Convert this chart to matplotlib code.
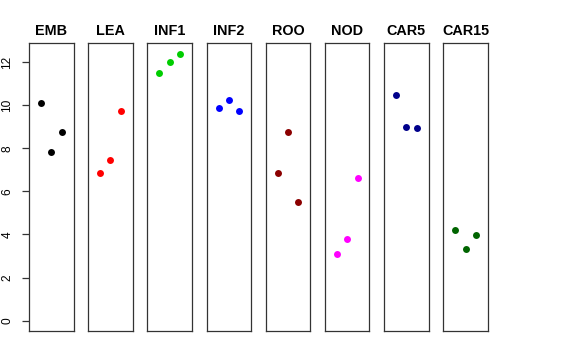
import matplotlib
matplotlib.use('Agg')
import matplotlib.pyplot as plt

# Tissues and their replicate values
tissues = ['EMB', 'LEA', 'INF1', 'INF2', 'ROO', 'NOD', 'CAR5', 'CAR15']
replicates = [1, 2, 3]

emb = [10.10, 7.82, 8.77]
lea = [6.85, 7.45, 9.71]
inf1 = [11.47, 11.99, 12.38]
inf2 = [9.87, 10.24, 9.74]
roo = [6.85, 8.75, 5.51]
nod = [3.11, 3.80, 6.63]
car5 = [10.47, 8.98, 8.92]
car15 = [4.19, 3.31, 3.99]

values = [emb, lea, inf1, inf2, roo, nod, car5, car15]
colors = ['black', '#FF0000', '#00CD00', '#0000FF', '#8B0000', '#FF00FF', '#00008B', '#006400']

y_ticks = [0, 2, 4, 6, 8, 10, 12]

plt.rcParams['font.family'] = ['Liberation Sans', 'DejaVu Sans']

fig = plt.figure(figsize=(5.76, 3.6), dpi=100)
W, H = 576.0, 360.0

# Panel geometry (pixels)
left0 = 29.0
step = 59.19
width = 44.5
bottom = 29.0
height = 287.7

for i, name in enumerate(tissues):
    ax = fig.add_axes([(left0 + i * step) / W, bottom / H, width / W, height / H])
    ax.plot(replicates, values[i], 'o', color=colors[i], markersize=5, markeredgewidth=0)

    ax.set_xlim(-0.16, 4.16)
    ax.set_ylim(-0.48, 12.87)
    ax.set_xticks([])
    for sp in ax.spines.values():
        sp.set_linewidth(0.9)
        sp.set_color('#333333')
    ax.set_title(name, fontsize=10.4, fontweight='bold', pad=6)

    if i == 0:
        ax.set_yticks(y_ticks)
        ax.set_yticklabels([str(t) for t in y_ticks], rotation=90, va='center', fontsize=8.6)
        ax.tick_params(axis='y', length=5.2, width=0.9, pad=6, color='#333333')
    else:
        ax.set_yticks([])

fig.savefig('out.png', dpi=100)
